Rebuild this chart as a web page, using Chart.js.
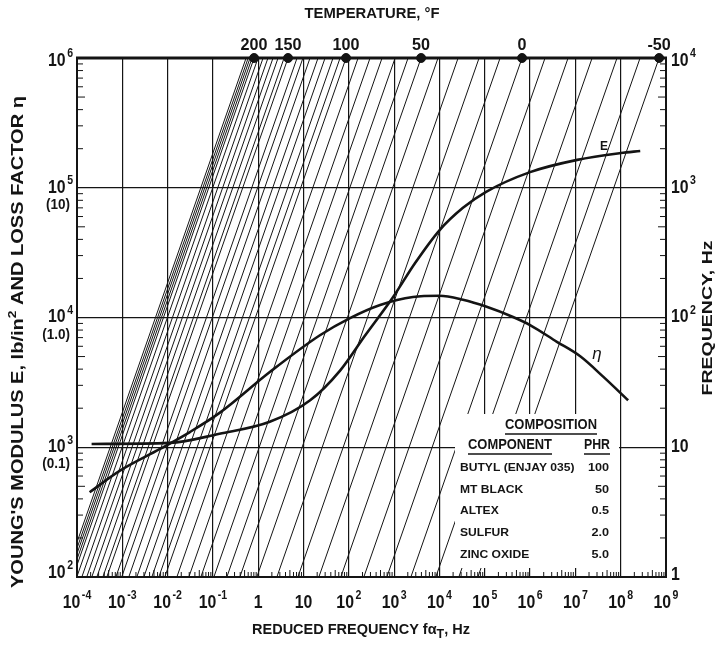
<!DOCTYPE html>
<html>
<head>
<title>Butyl rubber reduced frequency nomogram</title>
<style>
  body { margin:0; background:#fff; }
  #wrap { width:722px; height:646px; }
</style>
</head>
<body>
<div id="wrap"><canvas id="nomo" width="722" height="646"></canvas></div>
<script src="https://cdn.jsdelivr.net/npm/chart.js@4.4.1/dist/chart.umd.min.js"></script>
<script>
// Young's modulus E (lb/in2) against reduced frequency (Hz)
var eFreq    = [2.1e-4, 1.1e-2, 0.14, 1.8, 14, 64, 230, 950, 2.9e3, 1.0e4, 3.3e4, 1.07e5, 1.0e6, 1.1e7, 1.0e8, 2.7e8];
var eModulus = [1.06e3, 1.08e3, 1.27e3, 1.57e3, 2.3e3, 3.9e3, 7.3e3, 1.44e4, 2.63e4, 4.7e4, 7.0e4, 9.3e4, 1.32e5, 1.64e5, 1.85e5, 1.92e5];

// loss factor eta against reduced frequency (Hz)
var etaFreq = [1.9e-4, 8.9e-4, 6.8e-3, 3.1e-2, 0.14, 1.8, 23, 106, 490, 2.6e3, 1.0e4, 3.3e4, 1.1e5, 4.2e5, 1.0e6, 3.9e6, 1.3e7, 4.1e7, 1.46e8];
var etaLoss = [0.045, 0.066, 0.097, 0.131, 0.184, 0.38, 0.73, 0.99, 1.25, 1.44, 1.47, 1.37, 1.21, 1.01, 0.875, 0.65, 0.50, 0.35, 0.23];

// temperature scale (deg F): reduced frequency where the isotherm meets f = 10^4 Hz
var tempLabels  = ['200', '150', '100', '50', '0', '-50'];
var tempTopFreq = [0.81, 4.55, 86.7, 3.93e3, 6.65e5, 7.05e8];

// every isotherm drawn, same reading (reduced frequency at f = 10^4 Hz)
var isoTopFreq = [0.54, 0.60, 0.66, 0.73, 0.81, 0.99, 1.28, 1.64, 2.12, 2.74, 3.72, 4.55,
                  7.2, 9.7, 13.9, 20.9, 29.9, 44.8, 64, 86.7, 160, 294, 541, 1.05e3, 2.03e3, 3.93e3,
                  9.3e3, 2.58e4, 7.5e4, 2.18e5, 6.65e5, 2.14e6, 6.9e6, 2.34e7, 8.3e7, 2.68e8, 7.05e8];

var bottomExps = [-4, -3, -2, -1, 0, 1, 2, 3, 4, 5, 6, 7, 8, 9];
var leftExps   = [6, 5, 4, 3, 2];
var leftEta    = ['', '(10)', '(1.0)', '(0.1)', ''];
var rightExps  = [4, 3, 2, 1, 0];

var components = ['BUTYL (ENJAY 035)', 'MT BLACK', 'ALTEX', 'SULFUR', 'ZINC OXIDE'];
var phr        = ['100', '50', '0.5', '2.0', '5.0'];

var INK = '#141414';
var FONT = "'Liberation Sans', 'DejaVu Sans', Arial, sans-serif";

function isDecade(v) {
    var l = Math.log10(v);
    return Math.abs(l - Math.round(l)) < 1e-6;
}

// text helpers: bold, optionally squeezed horizontally
function txt(ctx, s, x, y, size, align, sx) {
    ctx.save();
    ctx.font = 'bold ' + size + 'px ' + FONT;
    var w = ctx.measureText(s).width * sx;
    var x0 = align === 'center' ? x - w / 2 : (align === 'right' ? x - w : x);
    ctx.translate(x0, y);
    ctx.scale(sx, 1);
    ctx.textAlign = 'left';
    ctx.textBaseline = 'middle';
    ctx.fillStyle = INK;
    ctx.fillText(s, 0, 0);
    ctx.restore();
    return w;
}
function widthOf(ctx, s, size) {
    ctx.save();
    ctx.font = 'bold ' + size + 'px ' + FONT;
    var w = ctx.measureText(s).width;
    ctx.restore();
    return w;
}
function fit(ctx, s, x, y, size, width, align) {
    return txt(ctx, s, x, y, size, align, width / widthOf(ctx, s, size));
}
// 10 with superscript exponent
function pow10(ctx, e, x, y, align) {
    var sx = 0.88;
    if (e === 0 || e === 1) {
        txt(ctx, e === 0 ? '1' : '10', x, y, 18, align, sx);
        return;
    }
    var es = String(e);
    var wb = widthOf(ctx, '10', 18) * sx, we = widthOf(ctx, es, 12) * sx;
    var tot = wb + 1.5 + we;
    var x0 = align === 'center' ? x - tot / 2 : (align === 'right' ? x - tot : x);
    txt(ctx, '10', x0, y, 18, 'left', sx);
    txt(ctx, es, x0 + wb + 1.5, y - 7, 12, 'left', sx);
}
// pieces laid out left to right, each {s, size, dy}, squeezed to a total width
function pieces(ctx, parts, cx, cy, width) {
    var raw = 0;
    parts.forEach(function (p) { raw += widthOf(ctx, p.s, p.size); });
    var sx = width / raw, x = cx - width / 2;
    parts.forEach(function (p) {
        x += txt(ctx, p.s, x, cy + (p.dy || 0), p.size, 'left', sx);
    });
}

var nomoPlugin = {
    id: 'nomo',
    beforeDatasetsDraw: function (chart) {
        var ctx = chart.ctx, a = chart.chartArea;
        ctx.save();
        ctx.strokeStyle = INK;
        ctx.lineWidth = 2;
        ctx.beginPath();
        ctx.moveTo(a.left, a.top); ctx.lineTo(a.left, a.bottom);
        ctx.lineTo(a.right, a.bottom); ctx.lineTo(a.right, a.top);
        ctx.stroke();
        ctx.lineWidth = 3;
        ctx.beginPath();
        ctx.moveTo(a.left - 1, a.top); ctx.lineTo(a.right + 1, a.top);
        ctx.stroke();
        ctx.restore();
    },
    afterDatasetsDraw: function (chart) {
        var ctx = chart.ctx, a = chart.chartArea;
        var sx = chart.scales.x, sy = chart.scales.y, sy2 = chart.scales.y2;
        ctx.save();

        // composition table, laid over the isotherms
        ctx.fillStyle = '#fff';
        ctx.fillRect(455, 414, 164, 154);
        fit(ctx, 'COMPOSITION', 551, 425, 14, 92, 'center');
        fit(ctx, 'COMPONENT', 468, 445, 14, 84, 'left');
        fit(ctx, 'PHR', 610, 445, 14, 26, 'right');
        ctx.strokeStyle = INK;
        ctx.lineWidth = 1.5;
        ctx.beginPath();
        ctx.moveTo(505, 434); ctx.lineTo(597, 434);
        ctx.moveTo(468, 454); ctx.lineTo(552, 454);
        ctx.moveTo(584, 454); ctx.lineTo(610, 454);
        ctx.stroke();
        components.forEach(function (c, i) {
            var y = 468 + i * 21.7;
            txt(ctx, c, 460, y, 11, 'left', 1.1);
            txt(ctx, phr[i], 609, y, 11, 'right', 1.15);
        });

        // minor ticks inside the frame
        ctx.lineWidth = 1;
        ctx.beginPath();
        var d, m, p;
        for (d = 2; d < 6; d++) {
            for (m = 2; m <= 9; m++) {
                p = sy.getPixelForValue(m * Math.pow(10, d));
                var len = m === 5 ? 8 : 6;
                ctx.moveTo(a.left, p); ctx.lineTo(a.left + len, p);
            }
        }
        for (d = 0; d < 4; d++) {
            for (m = 2; m <= 9; m++) {
                p = sy2.getPixelForValue(m * Math.pow(10, d));
                var len2 = m === 5 ? 8 : 6;
                ctx.moveTo(a.right, p); ctx.lineTo(a.right - len2, p);
            }
        }
        for (d = -4; d < 9; d++) {
            for (m = 2; m <= 9; m++) {
                p = sx.getPixelForValue(m * Math.pow(10, d));
                var len3 = m === 5 ? 7 : 5;
                ctx.moveTo(p, a.bottom); ctx.lineTo(p, a.bottom - len3);
            }
        }
        ctx.stroke();

        // tick labels
        bottomExps.forEach(function (e) {
            pow10(ctx, e, sx.getPixelForValue(Math.pow(10, e)), 603, 'center');
        });
        leftExps.forEach(function (e, i) {
            var y = sy.getPixelForValue(Math.pow(10, e));
            var dy = e === 6 ? 3 : (e === 2 ? -4 : 0);
            pow10(ctx, e, 73, y + dy, 'right');
            if (leftEta[i]) txt(ctx, leftEta[i], 70, y + 17, 15, 'right', 0.9);
        });
        rightExps.forEach(function (e) {
            var y = sy2.getPixelForValue(Math.pow(10, e));
            var dy = e === 4 ? 3 : (e === 0 ? -2 : 0);
            pow10(ctx, e, 671, y + dy, 'left');
        });
        tempTopFreq.forEach(function (v, i) {
            txt(ctx, tempLabels[i], sx.getPixelForValue(v), 45, 17, 'center', 0.95);
        });

        // curve labels
        txt(ctx, 'E', 604, 147, 12, 'center', 1);
        ctx.save();
        ctx.font = 'italic 17px ' + FONT;
        ctx.fillStyle = INK;
        ctx.textAlign = 'center';
        ctx.textBaseline = 'middle';
        ctx.fillText('\u03b7', 597, 354);
        ctx.restore();

        // axis titles
        fit(ctx, 'TEMPERATURE, \u00b0F', 372, 14, 14, 135, 'center');
        pieces(ctx, [{s: 'REDUCED FREQUENCY f\u03b1', size: 14}, {s: 'T', size: 12, dy: 5},
                     {s: ', Hz', size: 14}], 361, 630, 218);
        ctx.save();
        ctx.translate(19, 342);
        ctx.rotate(-Math.PI / 2);
        pieces(ctx, [{s: "YOUNG'S MODULUS E, lb/in", size: 16}, {s: '2', size: 11, dy: -6},
                     {s: ' AND LOSS FACTOR \u03b7', size: 16}], 0, 0, 492);
        ctx.restore();
        ctx.save();
        ctx.translate(708, 318);
        ctx.rotate(-Math.PI / 2);
        fit(ctx, 'FREQUENCY, Hz', 0, 0, 14, 155, 'center');
        ctx.restore();

        ctx.restore();
    }
};

function pts(xs, ys, k) {
    return xs.map(function (x, i) { return {x: x, y: ys[i] * (k || 1)}; });
}

var datasets = [];
isoTopFreq.forEach(function (t) {
    datasets.push({
        data: [{x: t / 1e4, y: 1}, {x: t, y: 1e4}],
        yAxisID: 'y2', showLine: true, borderColor: INK, borderWidth: 1,
        pointRadius: 0
    });
});
datasets.push({
    label: 'E', data: pts(eFreq, eModulus), yAxisID: 'y', showLine: true,
    borderColor: INK, borderWidth: 2.6, pointRadius: 0, cubicInterpolationMode: 'monotone'
});
// loss factor read on the bracketed scale: 1.0 sits on 10^4
datasets.push({
    label: 'eta', data: pts(etaFreq, etaLoss, 1e4), yAxisID: 'y', showLine: true,
    borderColor: INK, borderWidth: 2.6, pointRadius: 0, cubicInterpolationMode: 'monotone'
});
datasets.push({
    label: 'temps', data: tempTopFreq.map(function (v) { return {x: v, y: 1e6}; }),
    yAxisID: 'y', showLine: false, pointRadius: 4.5, pointBackgroundColor: INK,
    pointBorderColor: INK, clip: false
});

function majorGrid(c) {
    return c.tick && isDecade(c.tick.value) ? INK : 'rgba(0,0,0,0)';
}

var config = {
    type: 'scatter',
    data: {datasets: datasets},
    plugins: [nomoPlugin],
    options: {
        responsive: false,
        animation: false,
        layout: {padding: 0},
        plugins: {legend: {display: false}, tooltip: {enabled: false}},
        scales: {
            x: {
                type: 'logarithmic', position: 'bottom', min: 1e-4, max: 1e9,
                border: {display: false}, ticks: {display: false},
                grid: {color: majorGrid, lineWidth: 1.2, drawTicks: false},
                afterFit: function (s) { s.height = 69; }
            },
            xTop: {
                type: 'logarithmic', position: 'top', min: 1e-4, max: 1e9,
                border: {display: false}, ticks: {display: false}, grid: {display: false},
                afterFit: function (s) { s.height = 58; }
            },
            y: {
                type: 'logarithmic', position: 'left', min: 1e2, max: 1e6,
                border: {display: false}, ticks: {display: false},
                grid: {color: majorGrid, lineWidth: 1.2, drawTicks: false},
                afterFit: function (s) { s.width = 77; }
            },
            y2: {
                type: 'logarithmic', position: 'right', min: 1, max: 1e4,
                border: {display: false}, ticks: {display: false}, grid: {display: false},
                afterFit: function (s) { s.width = 56; }
            }
        }
    }
};

window.onload = function () {
    var ctx = document.getElementById('nomo').getContext('2d');
    window.nomo = new Chart(ctx, config);
};
</script>
</body>
</html>
